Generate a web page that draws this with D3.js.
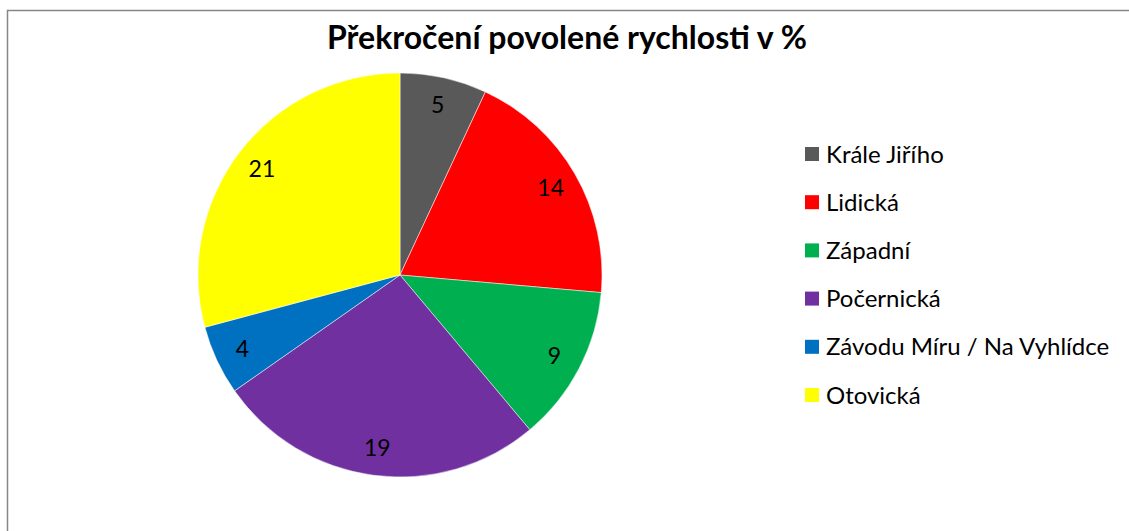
<!DOCTYPE html>
<html>
<head>
<meta charset="utf-8">
<script src="https://cdn.jsdelivr.net/npm/d3@7"></script>
<style>
  html, body { margin: 0; background: #fff; overflow: hidden; }
  svg { display: block; }
  text { font-family: Lato, "Open Sans", sans-serif; }
</style>
</head>
<body>
<svg id="chart"></svg>
<script>
// data
const streets = ["Krále Jiřího", "Lidická", "Západní", "Počernická", "Závodu Míru / Na Vyhlídce", "Otovická"];
const values = [5, 14, 9, 19, 4, 21];
const colors = ["#595959", "#FF0000", "#00B050", "#7030A0", "#0070C0", "#FFFF00"];
const title = "Překročení povolené rychlosti v %";

const width = 1129, height = 531;
const cx = 400, cy = 275, radius = 202;

const svg = d3.select("#chart")
  .attr("width", width)
  .attr("height", height);

// chart frame: only left and top edges are inside the picture
svg.append("path")
  .attr("d", `M7.5,${height} V10.5 H${width}`)
  .attr("fill", "none")
  .attr("stroke", "#868686")
  .attr("stroke-width", 1.5);

svg.append("text")
  .attr("x", 567)
  .attr("y", 49)
  .attr("text-anchor", "middle")
  .style("font-size", "32px")
  .style("font-weight", "bold")
  .style("fill", "#000")
  .text(title);

const pie = d3.pie().sort(null).value(d => d);
const arcs = pie(values);

const arc = d3.arc().innerRadius(0).outerRadius(radius);
const labelArc = d3.arc().innerRadius(174).outerRadius(174);

const g = svg.append("g").attr("transform", `translate(${cx},${cy})`);

g.selectAll(".slice")
  .data(arcs)
  .join("path")
  .attr("class", "slice")
  .attr("d", arc)
  .attr("fill", (d, i) => colors[i])
  .attr("stroke", "#fff")
  .attr("stroke-width", 0.5);

g.selectAll(".lbl")
  .data(arcs)
  .join("text")
  .attr("class", "lbl")
  .attr("transform", d => `translate(${labelArc.centroid(d)})`)
  .attr("text-anchor", "middle")
  .attr("dy", "0.36em")
  .style("font-size", "23px")
  .style("fill", "#000")
  .text(d => d.data);

// legend
const legendY = d3.scalePoint()
  .domain(streets)
  .range([154, 395]);

const legend = svg.append("g");

legend.selectAll("rect")
  .data(streets)
  .join("rect")
  .attr("x", 805)
  .attr("y", d => legendY(d) - 7)
  .attr("width", 14)
  .attr("height", 14)
  .attr("fill", (d, i) => colors[i]);

legend.selectAll("text")
  .data(streets)
  .join("text")
  .attr("x", 826)
  .attr("y", d => legendY(d))
  .attr("dy", "0.36em")
  .style("font-size", "24px")
  .style("fill", "#000")
  .text(d => d);
</script>
</body>
</html>
